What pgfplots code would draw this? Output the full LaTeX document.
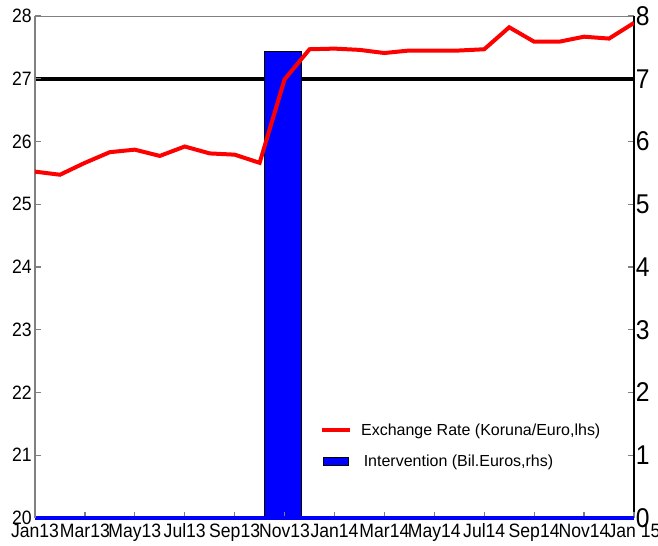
\documentclass[border=0pt]{standalone}
\usepackage{pgfplots}
\pgfplotsset{compat=1.18}
\usepackage{pgfplotstable}
\usepackage{fontspec}
\setmainfont{Liberation Sans}
\usetikzlibrary{calc}
\definecolor{axgray}{RGB}{128,128,128}

\pgfplotsset{
  redleg/.style={legend image code/.code={\draw[##1] (0pt,0pt) -- (21pt,0pt);}},
  barleg/.style={legend image code/.code={\draw[fill=blue, draw=black, line width=0.5pt] (1pt,-2.7pt) rectangle (20pt,2.7pt);}},
}

\pgfplotstableread{
x y
0 25.52
1 25.47
2 25.66
3 25.83
4 25.87
5 25.77
6 25.92
7 25.81
8 25.79
9 25.66
10 26.99
11 27.47
12 27.48
13 27.46
14 27.41
15 27.45
16 27.45
17 27.45
18 27.47
19 27.82
20 27.59
21 27.59
22 27.67
23 27.64
24 27.89
}\rate

\pgfplotstableread{
x y
10 7.43
}\interv

\begin{document}
\begin{tikzpicture}
\pgfplotsset{common/.style={
  width=449.25pt, height=376.5pt, scale only axis,
  xmin=0, xmax=24,
  /pgf/number format/assume math mode=true,
  tick align=inside,
  major tick length=4.5pt,
  major tick style={axgray, line width=0.9pt},
  minor tick num=0,
}}
% right axis (rhs, 0-8)
\begin{axis}[common, name=axr,
  ymin=0, ymax=8,
  axis y line*=right, axis x line*=top,
  tick pos=right,
  yticklabel pos=right,
  xtick=\empty,
  ytick={0,1,...,8},
  y axis line style={black, line width=0.9pt, -},
  x axis line style={axgray, line width=0.7pt, -},
  yticklabel style={font=\fontsize{18.5}{20}\selectfont, yscale=1.1, inner sep=1.2pt},
]
\addplot[black, line width=3pt, forget plot] coordinates {(0,7) (24,7)};
\addplot[ybar, bar width=1.48, bar shift=-0.06, fill=blue, draw=black, line width=0.5pt] table {\interv};
\end{axis}
% left axis (lhs, 20-28)
\begin{axis}[common, name=axl,
  ymin=20, ymax=28,
  axis y line*=left, axis x line*=bottom,
  tick pos=left,
  ytick={20,21,...,28},
  xtick={0,2,...,24},
  xticklabels={Jan13,Mar13,May13,Jul13,Sep13,Nov13,Jan14,Mar14,May14,Jul14,Sep14,Nov14,Jan 15},
  y axis line style={axgray, line width=1.1pt, -},
  x axis line style={blue, line width=2.3pt, -},
  yticklabel style={font=\fontsize{13.2}{14}\selectfont, yscale=1.1, inner sep=2.3pt},
  xticklabel style={font=\fontsize{13.2}{14}\selectfont, yscale=1.1, inner sep=3.8pt},
  legend style={draw=none, fill=none, at={(0.475,0.194)}, anchor=north west,
    font=\fontsize{12}{14}\selectfont, row sep=9pt, inner sep=0pt,
    /tikz/every odd column/.append style={column sep=5pt}},
  legend cell align=left,
]
\addplot[red, line width=3pt, redleg] table {\rate};
\addlegendentry{Exchange Rate (Koruna/Euro,lhs)}
\addlegendimage{barleg}
\addlegendentry{\,Intervention (Bil.Euros,rhs)}
\end{axis}
\pgfresetboundingbox
\path[use as bounding box] ($(axl.south west)+(-26.25pt,-21pt)$) rectangle ($(axl.north east)+(18pt,12pt)$);
\end{tikzpicture}
\end{document}
